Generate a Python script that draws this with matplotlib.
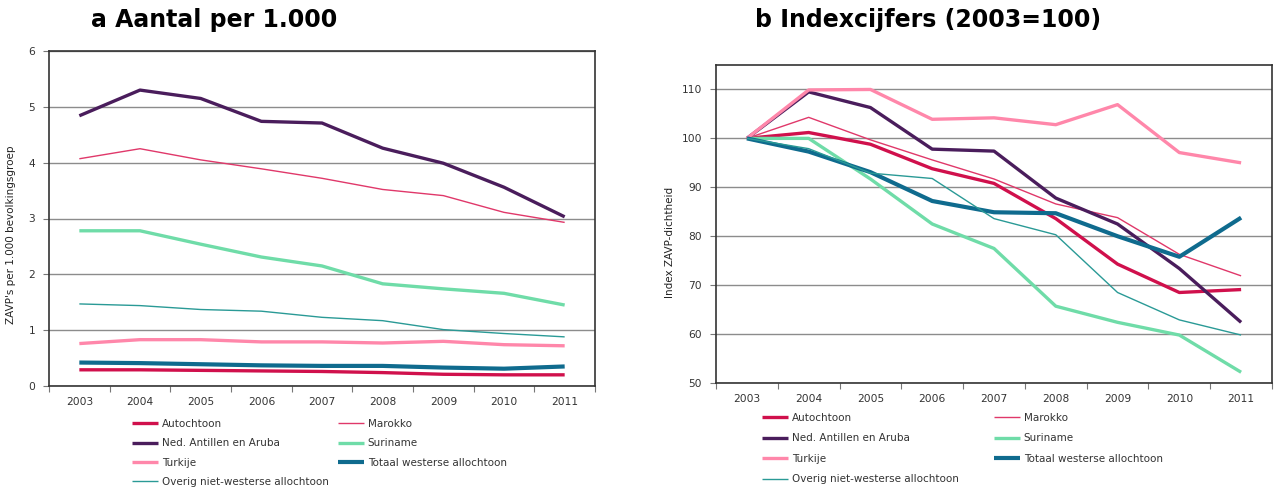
import matplotlib
matplotlib.use('Agg')
import matplotlib.pyplot as plt
import numpy as np

plt.rcParams['font.family'] = ['DejaVu Sans']

years = ['2003', '2004', '2005', '2006', '2007', '2008', '2009', '2010', '2011']

# a: aantal per 1.000
a_autochtoon = [0.29, 0.29, 0.28, 0.27, 0.26, 0.24, 0.21, 0.20, 0.20]
a_marokko    = [4.07, 4.25, 4.05, 3.89, 3.72, 3.52, 3.41, 3.11, 2.93]
a_antillen   = [4.84, 5.30, 5.15, 4.74, 4.71, 4.26, 3.99, 3.56, 3.03]
a_suriname   = [2.78, 2.78, 2.54, 2.31, 2.15, 1.83, 1.74, 1.66, 1.45]
a_turkije    = [0.76, 0.83, 0.83, 0.79, 0.79, 0.77, 0.80, 0.74, 0.72]
a_westers    = [0.42, 0.41, 0.39, 0.37, 0.36, 0.36, 0.33, 0.31, 0.35]
a_overig     = [1.47, 1.44, 1.37, 1.34, 1.23, 1.17, 1.01, 0.94, 0.88]

# b: indexcijfers (2003=100)
b_autochtoon = [100, 101.2, 98.8, 93.8, 90.8, 83.6, 74.3, 68.5, 69.1]
b_marokko    = [100, 104.3, 99.7, 95.6, 91.7, 86.6, 83.8, 76.3, 71.9]
b_antillen   = [100, 109.5, 106.3, 97.8, 97.4, 87.8, 82.5, 73.4, 62.4]
b_suriname   = [100, 100.0, 91.7, 82.5, 77.5, 65.7, 62.4, 59.8, 52.2]
b_turkije    = [100, 109.9, 110.0, 103.9, 104.2, 102.8, 106.9, 97.1, 95.0]
b_westers    = [100, 97.3, 93.1, 87.2, 84.9, 84.7, 80.0, 75.8, 83.8]
b_overig     = [100, 97.9, 92.9, 91.8, 83.6, 80.3, 68.5, 62.9, 59.8]

names = ['Autochtoon', 'Marokko', 'Ned. Antillen en Aruba', 'Suriname',
         'Turkije', 'Totaal westerse allochtoon', 'Overig niet-westerse allochtoon']
colors = ['#d0104c', '#e0386a', '#4a1d5c', '#6fdca8', '#ff87aa', '#0f6b8e', '#2a9a96']
widths = [2.4, 1.0, 2.4, 2.4, 2.4, 3.0, 1.0]

a_series = [a_autochtoon, a_marokko, a_antillen, a_suriname, a_turkije, a_westers, a_overig]
b_series = [b_autochtoon, b_marokko, b_antillen, b_suriname, b_turkije, b_westers, b_overig]

fig = plt.figure(figsize=(12.77, 4.88), dpi=100)
ax1 = fig.add_axes([49/1277, 1-386/488, 546/1277, 335/488])
ax2 = fig.add_axes([716/1277, 1-383/488, 556/1277, 318/488])

x = np.arange(len(years)) + 0.5


def style(ax, ylim, yticks):
    ax.set_xlim(0, len(years))
    ax.set_ylim(*ylim)
    ax.set_yticks(yticks)
    ax.set_xticks(np.arange(len(years) + 1))
    ax.set_xticklabels([])
    ax.set_xticks(x, minor=True)
    ax.set_xticklabels(years, minor=True)
    ax.tick_params(axis='x', which='major', length=4, color='#777777', direction='out')
    ax.tick_params(axis='x', which='minor', length=0, pad=8, labelsize=7.7, labelcolor='#333333')
    ax.tick_params(axis='y', length=4, color='#777777', labelsize=7.7, labelcolor='#333333', pad=6)
    ax.grid(axis='y', color='#8c8c8c', linewidth=1)
    ax.set_axisbelow(True)
    for s in ax.spines.values():
        s.set_color('#333333')
        s.set_linewidth(1.2)


def legend(ax, lines, x0, x1, y0, spacing):
    col1 = [lines[0], lines[2], lines[4], lines[6]]
    col2 = [lines[1], lines[3], lines[5]]
    kw = dict(loc='upper left', frameon=False, fontsize=7.5, handlelength=2.5,
              handletextpad=0.35, labelspacing=spacing, borderpad=0, borderaxespad=0,
              bbox_transform=fig.transFigure)
    l1 = ax.legend(handles=col1, labels=[h.get_label() for h in col1],
                   bbox_to_anchor=(x0/1277, 1-y0/488), **kw)
    ax.add_artist(l1)
    ax.legend(handles=col2, labels=[h.get_label() for h in col2],
              bbox_to_anchor=(x1/1277, 1-y0/488), **kw)
    for leg in (l1, ax.get_legend()):
        for t in leg.get_texts():
            t.set_color('#333333')


lines1 = []
for s, n, c, w in zip(a_series, names, colors, widths):
    ln, = ax1.plot(x, s, color=c, linewidth=w, label=n, solid_capstyle='butt')
    lines1.append(ln)
style(ax1, (0, 6), range(0, 7))
ax1.set_ylabel("ZAVP's per 1.000 bevolkingsgroep", fontsize=7.5, color='#222222')
ax1.yaxis.set_label_coords(-0.06, 0.45)

lines2 = []
for s, n, c, w in zip(b_series, names, colors, widths):
    ln, = ax2.plot(x, s, color=c, linewidth=w, label=n, solid_capstyle='butt')
    lines2.append(ln)
style(ax2, (50, 115), range(50, 111, 10))
ax2.set_ylabel('Index ZAVP-dichtheid', fontsize=7.5, color='#222222')
ax2.yaxis.set_label_coords(-0.074, 0.443)

legend(ax1, lines1, 132, 338, 419, 0.9)
legend(ax2, lines2, 762, 994, 413, 1.0)

fig.text(214/1277, 1-20/488, 'a Aantal per 1.000', fontsize=17, fontweight='bold',
         ha='center', va='center')
fig.text(928/1277, 1-20/488, 'b Indexcijfers (2003=100)', fontsize=17, fontweight='bold',
         ha='center', va='center')

fig.savefig('out.png', dpi=100)
